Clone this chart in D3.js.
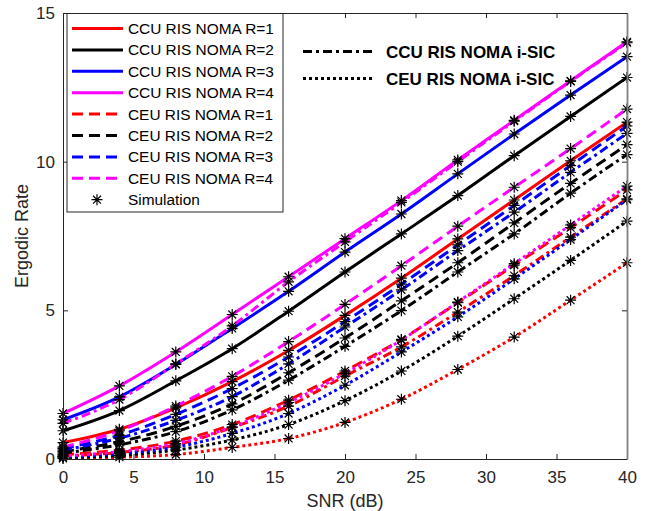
<!DOCTYPE html>
<html>
<head>
<meta charset="utf-8">
<script src="https://cdn.jsdelivr.net/npm/d3@7"></script>
<style>
  body { margin: 0; background: #fff; }
  svg { display: block; font-family: "Liberation Sans", Arial, Helvetica, sans-serif; }
</style>
</head>
<body>
<svg id="chart" width="653" height="511"></svg>
<script>
// SNR grid (dB) where the simulation points are evaluated
const snrDb = [0, 4, 8, 12, 16, 20, 24, 28, 32, 36, 40];

// Ergodic rate, cell-centre user (perfect SIC)
const ccuR1 = [0.55, 1.00, 1.72, 2.60, 3.65, 4.83, 6.08, 7.40, 8.71, 10.03, 11.33];
const ccuR2 = [0.95, 1.63, 2.63, 3.71, 4.97, 6.29, 7.57, 8.86, 10.20, 11.52, 12.83];
const ccuR3 = [1.32, 2.09, 3.18, 4.39, 5.64, 6.96, 8.24, 9.59, 10.93, 12.24, 13.53];
const ccuR4 = [1.53, 2.46, 3.60, 4.86, 6.13, 7.41, 8.69, 10.06, 11.39, 12.72, 14.03];

// Ergodic rate, cell-edge user
const ceuR1 = [0.15, 0.30, 0.60, 1.16, 1.98, 2.96, 4.02, 5.26, 6.52, 7.78, 9.05];
const ceuR2 = [0.25, 0.58, 1.10, 1.85, 2.90, 4.07, 5.32, 6.60, 7.94, 9.27, 10.57];
const ceuR3 = [0.35, 0.80, 1.50, 2.37, 3.43, 4.62, 5.88, 7.20, 8.53, 9.87, 11.20];
const ceuR4 = [0.40, 0.95, 1.78, 2.78, 3.95, 5.20, 6.50, 7.83, 9.14, 10.44, 11.77];

// Imperfect SIC, cell-centre user
const ccuIsicR1 = [0.10, 0.22, 0.47, 1.06, 1.78, 2.79, 3.77, 4.94, 6.17, 7.46, 8.75];
const ccuIsicR2 = [0.20, 0.48, 0.92, 1.65, 2.65, 3.79, 4.99, 6.29, 7.57, 8.94, 10.24];
const ccuIsicR3 = [0.30, 0.70, 1.30, 2.10, 3.20, 4.44, 5.69, 7.01, 8.30, 9.64, 10.95];
const ccuIsicR4 = [1.20, 2.00, 3.20, 4.48, 5.96, 7.30, 8.63, 10.00, 11.36, 12.70, 14.00];

// Imperfect SIC, cell-edge user
const ceuIsicR1 = [0.02, 0.06, 0.15, 0.39, 0.69, 1.23, 2.01, 3.01, 4.10, 5.34, 6.60];
const ceuIsicR2 = [0.04, 0.12, 0.30, 0.64, 1.16, 1.96, 2.96, 4.13, 5.39, 6.68, 8.00];
const ceuIsicR3 = [0.08, 0.18, 0.40, 0.86, 1.53, 2.48, 3.60, 4.78, 6.06, 7.38, 8.72];
const ceuIsicR4 = [0.10, 0.25, 0.52, 1.08, 1.90, 2.88, 4.00, 5.28, 6.57, 7.87, 9.18];

// Axis ticks
const xTicks = [0, 5, 10, 15, 20, 25, 30, 35, 40];
const yTicks = [0, 5, 10, 15];

// Legend text
const legendMain = [
  "CCU RIS NOMA R=1", "CCU RIS NOMA R=2", "CCU RIS NOMA R=3", "CCU RIS NOMA R=4",
  "CEU RIS NOMA R=1", "CEU RIS NOMA R=2", "CEU RIS NOMA R=3", "CEU RIS NOMA R=4",
  "Simulation"
];
const legendSic = ["CCU RIS NOMA i-SIC", "CEU RIS NOMA i-SIC"];

// ---- styling ----
const RED = "#ff0000", BLACK = "#000000", BLUE = "#0000ff", MAGENTA = "#ff00ff";
const DASH = "11,6", DASHDOT = "9,4,3,4", DOT = "3,3";
const LW = 3;

const series = [
  { v: ccuR1, c: RED, d: null }, { v: ccuR2, c: BLACK, d: null },
  { v: ccuR3, c: BLUE, d: null }, { v: ccuR4, c: MAGENTA, d: null },
  { v: ceuR1, c: RED, d: DASH }, { v: ceuR2, c: BLACK, d: DASH },
  { v: ceuR3, c: BLUE, d: DASH }, { v: ceuR4, c: MAGENTA, d: DASH },
  { v: ccuIsicR1, c: RED, d: DASHDOT }, { v: ccuIsicR2, c: BLACK, d: DASHDOT },
  { v: ccuIsicR3, c: BLUE, d: DASHDOT }, { v: ccuIsicR4, c: MAGENTA, d: DASHDOT },
  { v: ceuIsicR1, c: RED, d: DOT }, { v: ceuIsicR2, c: BLACK, d: DOT },
  { v: ceuIsicR3, c: BLUE, d: DOT }, { v: ceuIsicR4, c: MAGENTA, d: DOT }
];

const svg = d3.select("#chart");
const L = 63, R = 627, T = 13, B = 459;
const x = d3.scaleLinear().domain([0, 40]).range([L, R]);
const y = d3.scaleLinear().domain([0, 15]).range([B, T]);
const AX = "#262626";

svg.append("defs").append("clipPath").attr("id", "plotClip")
  .append("rect").attr("x", L).attr("y", T).attr("width", R - L).attr("height", B - T);

// white plot background
svg.append("rect").attr("x", L).attr("y", T).attr("width", R - L).attr("height", B - T).attr("fill", "#fff");

// curves
const line = d3.line().x((d, i) => x(snrDb[i])).y(d => y(d)).curve(d3.curveMonotoneX);
const plot = svg.append("g").attr("clip-path", "url(#plotClip)");
series.forEach(s => {
  plot.append("path").datum(s.v)
    .attr("d", line)
    .attr("fill", "none")
    .attr("stroke", s.c)
    .attr("stroke-width", LW)
    .attr("stroke-dasharray", s.d)
    .attr("stroke-linejoin", "round");
});

// asterisk marker
function star(g, cx, cy, r) {
  const a = r * 0.72;
  g.append("path")
    .attr("d", `M${cx - r},${cy}H${cx + r}M${cx},${cy - r}V${cy + r}` +
               `M${cx - a},${cy - a}L${cx + a},${cy + a}M${cx - a},${cy + a}L${cx + a},${cy - a}`)
    .attr("stroke", "#000").attr("stroke-width", 1.2).attr("fill", "none");
}
const marks = svg.append("g");
series.forEach(s => {
  s.v.forEach((val, i) => star(marks, x(snrDb[i]), y(val), 5.5));
});

// axes box
const axes = svg.append("g");
const xAxB = d3.axisBottom(x).tickValues(xTicks).tickSizeInner(-5).tickSizeOuter(0).tickPadding(12);
const xAxT = d3.axisTop(x).tickValues(xTicks).tickSizeInner(-5).tickSizeOuter(0).tickFormat("");
const yAxL = d3.axisLeft(y).tickValues(yTicks).tickSizeInner(-5).tickSizeOuter(0).tickPadding(8);
const yAxR = d3.axisRight(y).tickValues(yTicks).tickSizeInner(-5).tickSizeOuter(0).tickFormat("");

function styleAxis(g) {
  g.selectAll("path.domain").attr("stroke", AX).attr("stroke-width", 1);
  g.selectAll(".tick line").attr("stroke", AX).attr("stroke-width", 1);
  g.selectAll(".tick text").attr("fill", AX).attr("font-size", 17)
    .attr("font-family", "Liberation Sans, Arial, sans-serif");
}
axes.append("g").attr("transform", `translate(0,${B})`).call(xAxB).call(styleAxis);
axes.append("g").attr("transform", `translate(0,${T})`).call(xAxT).call(styleAxis);
axes.append("g").attr("transform", `translate(${L},0)`).call(yAxL).call(styleAxis);
axes.append("g").attr("transform", `translate(${R},0)`).call(yAxR).call(styleAxis)
  .select("path.domain").attr("stroke", "#808080").attr("stroke-width", 1.8);

// axis titles
svg.append("text").attr("x", (L + R) / 2).attr("y", 507).attr("text-anchor", "middle")
  .attr("font-size", 18).attr("fill", AX).text("SNR (dB)");
svg.append("text").attr("transform", `translate(28,236) rotate(-90)`).attr("text-anchor", "middle")
  .attr("font-size", 18).attr("fill", AX).text("Ergodic Rate");

// main legend
const lg = svg.append("g");
lg.append("rect").attr("x", 67).attr("y", 13.5).attr("width", 216).attr("height", 198.5)
  .attr("fill", "#fff").attr("stroke", AX).attr("stroke-width", 1);
legendMain.forEach((t, i) => {
  const yy = 28.5 + i * 21.4;
  if (i < 8) {
    const s = series[i];
    lg.append("line").attr("x1", 72).attr("x2", 123).attr("y1", yy).attr("y2", yy)
      .attr("stroke", s.c).attr("stroke-width", LW).attr("stroke-dasharray", s.d);
  } else {
    star(lg, 97, yy, 5.5);
  }
  lg.append("text").attr("x", 128).attr("y", yy + 5.5).attr("font-size", 15.4)
    .attr("fill", "#000").text(t);
});

// i-SIC legend
const lg2 = svg.append("g");
[DASHDOT, DOT].forEach((d, i) => {
  const yy = 51.5 + i * 27;
  lg2.append("line").attr("x1", 303).attr("x2", 375).attr("y1", yy).attr("y2", yy)
    .attr("stroke", BLACK).attr("stroke-width", LW).attr("stroke-dasharray", d);
  lg2.append("text").attr("x", 386).attr("y", yy + 6).attr("font-size", 17)
    .attr("font-weight", "bold").attr("fill", "#000").text(legendSic[i]);
});
</script>
</body>
</html>
